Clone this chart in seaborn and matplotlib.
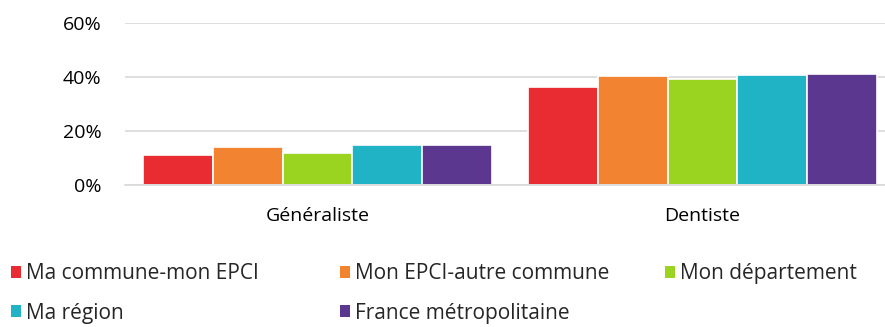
import matplotlib
matplotlib.use("Agg")
import matplotlib.pyplot as plt
import seaborn as sns
import pandas as pd
from matplotlib.patches import Patch

# Part of patients (%) by practitioner type and geographic scale
categories = ["Généraliste", "Dentiste"]
series = ["Ma commune-mon EPCI", "Mon EPCI-autre commune", "Mon département",
          "Ma région", "France métropolitaine"]
values = {
    "Ma commune-mon EPCI": [11, 36.3],
    "Mon EPCI-autre commune": [14, 40.4],
    "Mon département": [12, 39.1],
    "Ma région": [15, 40.9],
    "France métropolitaine": [15, 41],
}
colors = ["#E92B32", "#F28431", "#9AD421", "#1FB3C5", "#5C3790"]
y_ticks = [0, 20, 40, 60]
y_tick_labels = ["0%", "20%", "40%", "60%"]

rows = []
for s in series:
    for c, v in zip(categories, values[s]):
        rows.append({"cat": c, "serie": s, "val": v})
df = pd.DataFrame(rows)

sns.set_theme(style="white")
plt.rcParams["font.family"] = ["Open Sans", "DejaVu Sans"]
FS = 14
LFS = 15

fig = plt.figure(figsize=(8.85, 3.27), dpi=100)
ax = fig.add_axes([125 / 885, 1 - 185 / 327, 770 / 885, (185 - 23) / 327])

sns.barplot(data=df, x="cat", y="val", hue="serie", order=categories,
            hue_order=series, palette=colors, width=0.905, saturation=1,
            edgecolor="white", linewidth=1.2, errorbar=None, legend=False, ax=ax)

ax.set_xlim(-0.5, 1.5)
ax.set_ylim(0, 60)
ax.set_yticks(y_ticks)
ax.set_yticklabels(y_tick_labels)
ax.yaxis.grid(True, color="#D9D9D9", linewidth=1.2)
ax.set_axisbelow(True)
for sp in ["top", "right", "left"]:
    ax.spines[sp].set_visible(False)
ax.spines["bottom"].set_color("#D9D9D9")
ax.spines["bottom"].set_linewidth(1.2)
ax.set_xlabel("")
ax.set_ylabel("")
ax.tick_params(axis="y", length=0, pad=17, labelsize=FS, labelcolor="#000000")
ax.tick_params(axis="x", length=0, pad=15.5, labelsize=FS, labelcolor="#000000")

# Legend laid out in three columns
columns = [[0, 3], [1, 4], [2]]
col_x = [11 / 885, 340 / 885, 665 / 885]
for cols, x in zip(columns, col_x):
    handles = [Patch(facecolor=colors[i], edgecolor="none") for i in cols]
    labels = [series[i] for i in cols]
    fig.legend(handles, labels, loc="upper left", bbox_to_anchor=(x, 1 - 263 / 327),
               frameon=False, fontsize=LFS, handlelength=0.5, handleheight=0.5,
               handletextpad=0.2, labelspacing=0.9, borderaxespad=0,
               borderpad=0)

fig.savefig("out.png", dpi=100)
